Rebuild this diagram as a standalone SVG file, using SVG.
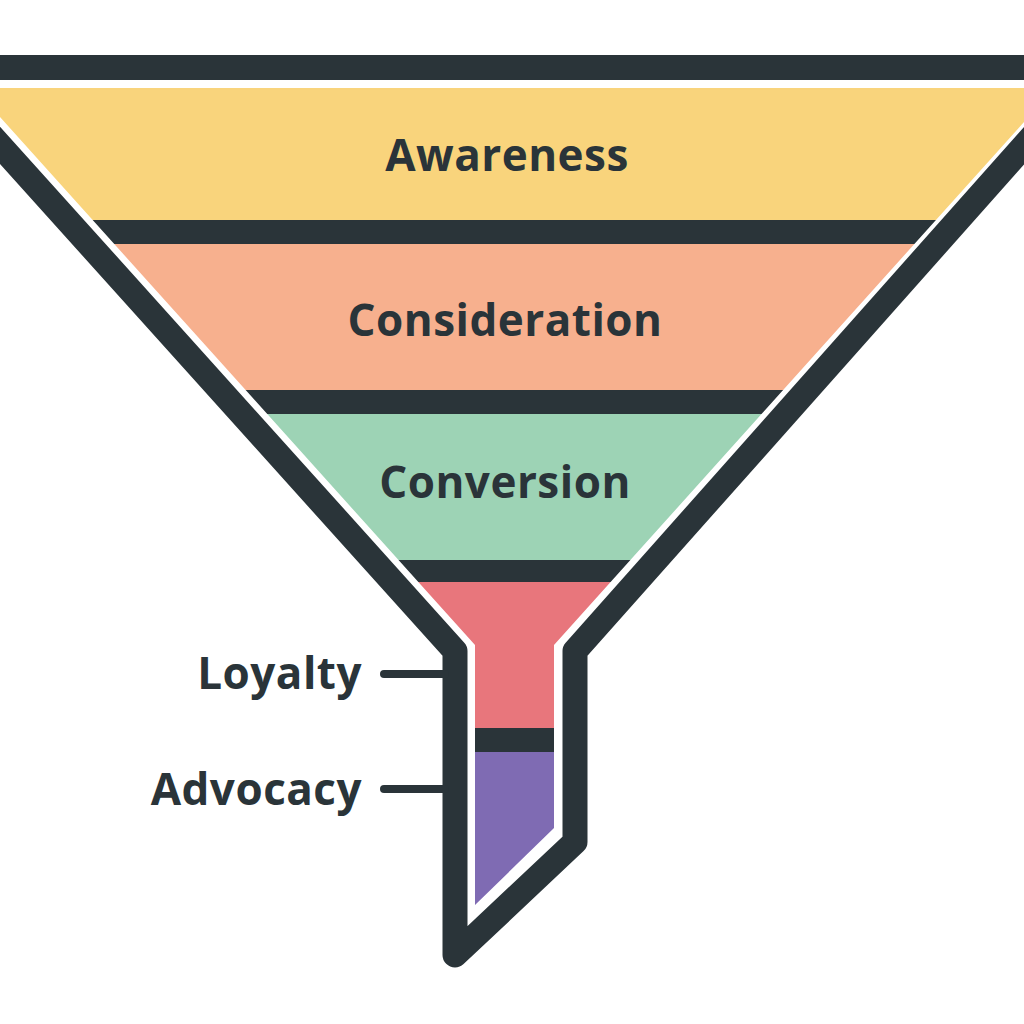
<svg xmlns="http://www.w3.org/2000/svg" width="1024" height="1024" viewBox="0 0 1024 1024">
<style>
.t{font-family:"Open Sans","Noto Sans",sans-serif;font-weight:700;font-size:44px;letter-spacing:0.5px;fill:#2a3439}
.sep{fill:#2a3439}
</style>
<defs>
<clipPath id="fc"><polygon points="0,88 1024,88 1024,122 554,645 554,828 475,905 475,645 0,117"/></clipPath>
</defs>
<rect width="1024" height="1024" fill="#fff"/>
<g id="outline">
<rect x="0" y="55" width="1024" height="25" fill="#2a3439"/>
<path d="M-30,112 L455,651 L455,955 L575,842 L575,651 L1054,112" fill="none" stroke="#2a3439" stroke-width="25" stroke-linejoin="round" stroke-linecap="round"/>
</g>
<g clip-path="url(#fc)">
<g id="awareness"><rect x="0" y="80" width="1024" height="140" fill="#f9d47c"/></g>
<rect class="sep" x="0" y="220" width="1024" height="24"/>
<g id="consideration"><rect x="0" y="244" width="1024" height="146" fill="#f7b08e"/></g>
<rect class="sep" x="0" y="390" width="1024" height="24"/>
<g id="conversion"><rect x="0" y="414" width="1024" height="146" fill="#9dd3b5"/></g>
<rect class="sep" x="0" y="560" width="1024" height="22"/>
<g id="loyalty"><rect x="0" y="582" width="1024" height="146" fill="#e8767c"/></g>
<rect class="sep" x="0" y="728" width="1024" height="24"/>
<g id="advocacy"><rect x="0" y="752" width="1024" height="200" fill="#7f6bb3"/></g>
</g>
<g id="labels">
<text class="t" x="507" y="171" text-anchor="middle">Awareness</text>
<text class="t" x="505" y="336" text-anchor="middle">Consideration</text>
<text class="t" x="505" y="498" text-anchor="middle">Conversion</text>
<text class="t" x="362" y="689" text-anchor="end">Loyalty</text>
<text class="t" x="362" y="805" text-anchor="end">Advocacy</text>
</g>
<g id="connectors" stroke="#2a3439" stroke-width="8" stroke-linecap="round">
<line x1="384" y1="674" x2="445" y2="674"/>
<line x1="384" y1="789" x2="445" y2="789"/>
</g>
</svg>
